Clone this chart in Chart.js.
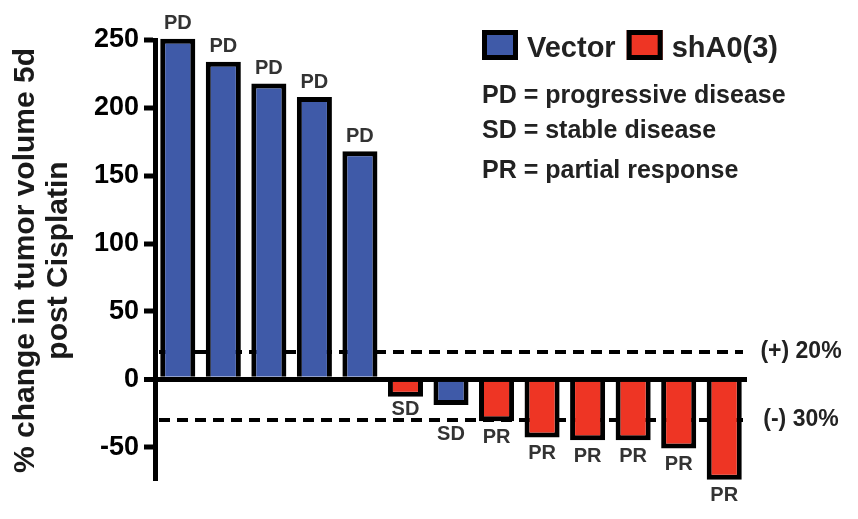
<!DOCTYPE html>
<html>
<head>
<meta charset="utf-8">
<script src="https://cdn.jsdelivr.net/npm/chart.js@4"></script>
<style>
  html, body { margin: 0; padding: 0; background: #fff; }
  #wrap { width: 858px; height: 519px; }
</style>
</head>
<body>
<div id="wrap"><canvas id="waterfallChart" width="858" height="519"></canvas></div>
<script>
// data
const tumors = ['T1', 'T2', 'T3', 'T4', 'T5', 'T6', 'T7', 'T8', 'T9', 'T10', 'T11', 'T12', 'T13'];
const groups = ['Vector', 'Vector', 'Vector', 'Vector', 'Vector', 'shA0(3)', 'Vector',
  'shA0(3)', 'shA0(3)', 'shA0(3)', 'shA0(3)', 'shA0(3)', 'shA0(3)'];
const changes = [251, 234, 218, 208, 168, -13, -19, -31, -43, -45, -45, -51, -74];
const responses = ['PD', 'PD', 'PD', 'PD', 'PD', 'SD', 'SD', 'PR', 'PR', 'PR', 'PR', 'PR', 'PR'];
const yTicks = [-50, 0, 50, 100, 150, 200, 250];
const thresholds = [20, -30];
const thresholdLabels = ['(+) 20%', '(-) 30%'];
const legendNames = ['Vector', 'shA0(3)'];
const notes = ['PD = progressive disease', 'SD = stable disease', 'PR = partial response'];

const groupColors = { 'Vector': '#3f5aa8', 'shA0(3)': '#ee3524' };
const FONT = "'Liberation Sans', Arial, sans-serif";
Chart.defaults.font.family = FONT;

// dashed cut-off lines go behind the bars
const thresholdLines = {
  id: 'thresholdLines',
  beforeDatasetsDraw(chart) {
    const { ctx, chartArea, scales: { y } } = chart;
    ctx.save();
    ctx.strokeStyle = '#000';
    ctx.lineWidth = 4;
    ctx.setLineDash([11, 7]);
    thresholds.forEach(t => {
      const py = y.getPixelForValue(t);
      ctx.beginPath();
      ctx.moveTo(chartArea.left + 4, py);
      ctx.lineTo(chartArea.right - 4, py);
      ctx.stroke();
    });
    ctx.restore();
  },
  afterDraw(chart) {
    const { ctx, chartArea, scales: { y } } = chart;
    ctx.save();
    ctx.fillStyle = '#222';
    ctx.font = 'bold 23px ' + FONT;
    ctx.textAlign = 'center';
    ctx.textBaseline = 'middle';
    thresholds.forEach((t, i) => {
      ctx.fillText(thresholdLabels[i], chartArea.right + 54, y.getPixelForValue(t));
    });
    ctx.restore();
  }
};

// PD / SD / PR above or below each bar
const responseLabels = {
  id: 'responseLabels',
  afterDatasetsDraw(chart) {
    const { ctx, scales: { y } } = chart;
    const meta = chart.getDatasetMeta(0);
    ctx.save();
    ctx.fillStyle = '#333';
    ctx.font = 'bold 20px ' + FONT;
    ctx.textAlign = 'center';
    ctx.textBaseline = 'middle';
    meta.data.forEach((bar, i) => {
      let cy = changes[i] >= 0 ? bar.y - 15 : bar.y + 16;
      if (changes[i] < 0) {
        thresholds.forEach(t => {
          const ty = y.getPixelForValue(t);
          if (Math.abs(cy - ty) < 9) cy = cy < ty ? ty - 10 : ty + 15;
        });
      }
      ctx.fillText(responses[i], bar.x, cy);
    });
    ctx.restore();
  }
};

// legend boxes and the key text in the top right
const keyBox = {
  id: 'keyBox',
  afterDraw(chart) {
    const ctx = chart.ctx;
    ctx.save();
    ctx.font = 'bold 29px ' + FONT;
    ctx.textBaseline = 'alphabetic';
    let x = 482;
    legendNames.forEach(name => {
      ctx.fillStyle = groupColors[name];
      ctx.fillRect(x, 30, 36, 30);
      ctx.strokeStyle = '#000';
      ctx.lineWidth = 5;
      ctx.strokeRect(x + 2.5, 32.5, 31, 25);
      ctx.fillStyle = '#222';
      ctx.fillText(name, x + 45, 57);
      x += 45 + ctx.measureText(name).width + 11;
    });
    ctx.font = 'bold 25px ' + FONT;
    const baselines = [103, 138, 178];
    notes.forEach((line, i) => ctx.fillText(line, 482, baselines[i]));
    ctx.restore();
  }
};

const ctxWaterfall = document.getElementById('waterfallChart').getContext('2d');
const waterfallChart = new Chart(ctxWaterfall, {
  type: 'bar',
  data: {
    labels: tumors,
    datasets: [{
      label: '% change',
      data: changes,
      backgroundColor: groups.map(g => groupColors[g]),
      borderColor: '#000',
      borderWidth: 5,
      barPercentage: 0.77,
      categoryPercentage: 1.0,
      clip: false
    }]
  },
  options: {
    responsive: false,
    animation: false,
    layout: { padding: { top: 40, right: 111, bottom: 38, left: 0 } },
    plugins: {
      legend: { display: false },
      tooltip: { enabled: false }
    },
    scales: {
      x: { display: false },
      y: {
        min: -75,
        max: 250,
        z: 1,
        afterBuildTicks: axis => { axis.ticks = yTicks.map(v => ({ value: v })); },
        afterFit: axis => { axis.width = 155; },
        border: { display: true, color: '#000', width: 5 },
        grid: {
          color: c => (c.tick && c.tick.value === 0 ? '#000' : 'rgba(0,0,0,0)'),
          lineWidth: c => (c.tick && c.tick.value === 0 ? 5 : 0),
          drawTicks: true,
          tickLength: 11,
          tickWidth: 5,
          tickColor: '#000'
        },
        ticks: {
          color: '#000',
          padding: 5,
          font: { size: 27, weight: 'bold' }
        },
        title: {
          display: true,
          text: ['% change in tumor volume 5d', 'post Cisplatin'],
          color: '#1a1a1a',
          font: { size: 30, weight: 'bold', lineHeight: 1.1 },
          padding: { top: 9, bottom: 0 }
        }
      }
    }
  },
  plugins: [thresholdLines, responseLabels, keyBox]
});
</script>
</body>
</html>
